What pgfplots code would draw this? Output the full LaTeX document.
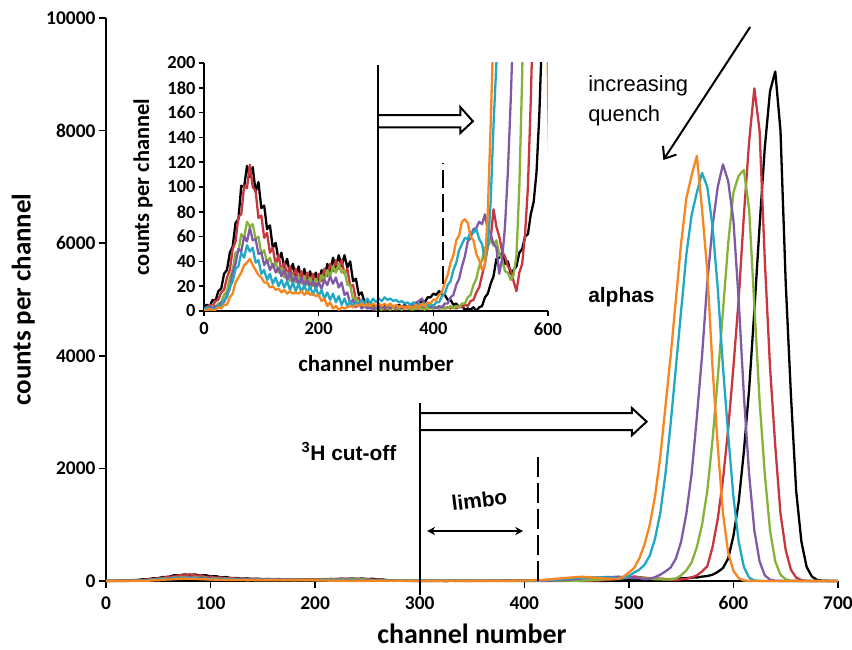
\documentclass[border=0pt]{standalone}
\usepackage{fontspec}
\setmainfont{Carlito}
\newfontfamily\arial{Liberation Sans}
\usepackage{pgfplots}
\pgfplotsset{compat=1.18}
\usepackage{pgfplotstable}
\usetikzlibrary{arrows.meta}
\definecolor{cK}{HTML}{000000}
\definecolor{cR}{HTML}{C8363F}
\definecolor{cG}{HTML}{86B23A}
\definecolor{cP}{HTML}{7F5AA6}
\definecolor{cC}{HTML}{22A8C4}
\definecolor{cO}{HTML}{F7861E}
\pgfplotstableread{
x k r g p c o
0 3 2 1 2 1 1
5 5 3 2 1 3 0
10 4 5 2 4 1 2
15 9 4 4 2 2 0
20 8 8 3 4 1 1
25 16 9 6 3 4 3
30 18 15 7 7 4 2
35 30 17 13 7 9 5
40 33 27 16 13 11 5
45 47 33 27 18 19 11
50 52 50 33 31 24 14
55 71 56 47 38 34 23
60 74 76 48 50 36 27
65 101 78 62 48 47 31
70 100 101 59 60 43 37
75 117 99 72 56 53 39
80 108 118 68 67 48 42
85 116 100 70 57 51 37
90 96 97 58 58 39 33
95 104 75 60 46 41 29
100 83 77 46 47 30 27
105 85 59 49 37 33 23
110 66 63 39 41 25 23
115 69 47 43 33 30 19
120 51 51 35 38 22 20
125 55 37 39 31 27 17
130 41 45 31 35 20 18
135 47 32 35 28 25 15
140 35 39 27 33 19 17
145 42 29 31 25 24 14
150 30 36 24 31 17 16
155 38 26 29 23 23 14
160 27 34 23 28 16 15
165 36 25 28 21 22 14
170 25 32 22 27 15 16
175 34 24 28 20 21 13
180 23 31 21 25 14 16
185 32 22 27 19 20 13
190 22 30 20 24 13 14
195 31 21 26 18 19 12
200 22 30 21 23 12 13
205 33 24 29 18 17 8
210 25 34 25 25 10 10
215 38 28 33 21 15 4
220 31 38 28 28 9 7
225 43 32 36 22 14 2
230 35 41 31 27 7 4
235 45 34 38 19 12 1
240 36 41 31 23 5 3
245 45 30 33 13 10 2
250 35 34 21 15 4 3
255 40 20 21 6 8 4
260 24 21 9 9 3 3
265 26 9 11 3 7 5
270 13 11 4 6 4 4
275 15 4 6 2 9 6
280 7 7 3 4 6 4
285 9 3 4 2 10 6
290 4 4 2 3 6 4
295 5 2 3 1 10 6
300 2 3 1 3 7 4
305 4 2 2 2 10 6
310 2 3 1 4 8 4
315 4 1 3 2 11 6
320 3 3 2 4 9 4
325 2 2 1 2 10 6
330 4 3 3 4 8 3
335 3 1 2 3 9 5
340 5 3 2 4 7 3
345 3 2 1 2 8 4
350 5 2 3 4 6 2
355 3 3 2 3 7 4
360 5 1 2 5 5 3
365 4 3 1 4 7 3
370 6 2 3 7 4 5
375 5 2 2 8 6 3
380 8 3 2 10 4 6
385 7 2 1 6 6 4
390 11 2 3 6 4 7
395 11 3 2 3 6 6
400 14 2 2 4 4 9
405 13 3 3 2 7 9
410 16 2 2 4 7 13
415 13 3 2 3 12 15
420 13 2 3 6 14 23
425 9 3 2 6 21 29
430 9 2 4 11 24 39
435 5 3 2 13 33 45
440 6 2 4 21 39 57
445 3 4 3 26 49 61
450 4 3 6 36 54 72
455 1 5 6 44 59 74
460 2 4 11 56 58 71
465 1 8 13 59 64 60
470 3 9 21 66 63 57
475 0 15 26 67 66 46
480 3 19 36 72 58 41
485 4 29 41 70 54 33
490 11 38 51 78 40 37
495 14 52 54 65 52 80
500 22 58 57 62 88 150
505 28 82 53 54 150 230
510 42 68 57 51 200 400
515 43 60 46 30 290 650
520 47 48 42 42 450 1000
525 38 44 32 68 750 1500
530 40 36 31 112 1200 2200
535 30 33 25 170 1900 3100
540 33 24 29 240 2800 4000
545 36 16 45 400 3800 5000
550 47 31 100 700 4800 6000
555 50 38 190 1200 5800 6800
560 60 62 330 1900 6500 7200
565 62 100 600 2900 6900 7550
570 78 170 1000 4000 7250 6600
575 88 260 1600 5300 7000 5500
580 112 600 2500 6300 6300 3800
585 160 1100 3600 7000 5200 2400
590 230 1800 4800 7400 3800 1200
595 400 2700 6000 7100 2600 500
600 800 3800 6900 6400 1500 180
605 1400 5000 7200 5000 700 50
610 2300 6500 7300 3300 250 10
615 3400 7800 6600 1900 60 3
620 4800 8750 4900 900 10 1
625 6300 8000 3200 350 2 1
630 7700 5700 1900 100 1 1
635 8700 3800 900 25 1 1
640 9050 2400 350 5 1 1
645 8000 1200 110 2 1 1
650 5300 550 30 1 1 1
655 3300 200 5 1 1 1
660 1600 60 2 1 1 1
665 700 15 1 1 1 1
670 250 3 1 1 1 1
675 80 1 1 1 1 1
680 20 1 1 1 1 1
685 5 1 1 1 1 1
690 2 1 1 1 1 1
695 1 1 1 1 1 1
700 1 1 1 1 1 1
}\spectra

\pgfplotsset{
  spec/.style={line width=2.3bp, line join=round, no markers},
}

\begin{document}
\begin{tikzpicture}
\useasboundingbox (-106bp,-69bp) rectangle (746bp,581bp);
% ---------------- main axis ----------------
\begin{axis}[
  at={(0,0)}, anchor=south west,
  scale only axis, width=732bp, height=563bp,
  xmin=0, xmax=700, ymin=0, ymax=10000,
  axis x line=bottom, axis y line=left,
  axis line style={line width=1.5bp, -},
  xtick={0,100,...,700}, ytick={0,2000,...,10000},
  tick align=outside, major tick length=7bp,
  tick style={line width=1.5bp, black},
  /pgf/number format/assume math mode=true,
  /pgf/number format/1000 sep={},
  scaled ticks=false,
  ticklabel style={font=\bfseries\fontsize{19.5}{20}\selectfont},
  xticklabel style={yshift=-5bp},
  xlabel={channel number}, ylabel={counts per channel},
  xlabel style={font=\bfseries\fontsize{28}{30}\selectfont, inner sep=0pt, at={(axis description cs:0.5,-0.093)}, anchor=center},
  ylabel style={font=\bfseries\fontsize{27}{29}\selectfont, at={(axis description cs:-0.113,0.5)}, anchor=center},
  clip=false,
]
\addplot[spec, cK] table[x=x, y=k] {\spectra};
\addplot[spec, cR] table[x=x, y=r] {\spectra};
\addplot[spec, cG] table[x=x, y=g] {\spectra};
\addplot[spec, cP] table[x=x, y=p] {\spectra};
\addplot[spec, cC] table[x=x, y=c] {\spectra};
\addplot[spec, cO] table[x=x, y=o] {\spectra};
% annotations
\draw[line width=2bp] (axis cs:300,-250) -- (axis cs:300,3160);
\draw[line width=2bp, line join=miter] (axis cs:300,2980) -- (axis cs:503,2980) -- (axis cs:503,3070) -- (axis cs:517,2830) -- (axis cs:503,2590) -- (axis cs:503,2680) -- (axis cs:300,2680);
\draw[line width=2.2bp, dash pattern=on 20bp off 6bp] (axis cs:413,0) -- (axis cs:413,2220);
\draw[line width=2bp, {Stealth[length=8bp,width=8bp]}-{Stealth[length=8bp,width=8bp]}] (axis cs:307,888) -- (axis cs:399,888);
\node[font=\arial\bfseries\fontsize{21}{22}\selectfont, rotate=7, inner sep=0pt] at (axis cs:357,1440) {limbo};
\node[font=\arial\bfseries\fontsize{21}{22}\selectfont, anchor=base west, inner sep=0pt] at (axis cs:187,2149) {\textsuperscript{3}H cut-off};
\node[font=\arial\bfseries\fontsize{21}{22}\selectfont, anchor=base west, inner sep=0pt] at (axis cs:461,4938) {alphas};
\node[font=\arial\fontsize{22}{26}\selectfont, anchor=base west, inner sep=0pt] at (axis cs:461,8686) {increasing};
\node[font=\arial\fontsize{22}{26}\selectfont, anchor=base west, inner sep=0pt] at (axis cs:461,8153) {quench};
\draw[line width=2bp, -{Straight Barb[length=10bp,width=16bp]}] (axis cs:616,9840) -- (axis cs:533,7478);
\end{axis}
% ---------------- inset axis ----------------
\begin{axis}[
  at={(98bp,270bp)}, anchor=south west,
  scale only axis, width=344bp, height=248bp,
  xmin=0, xmax=600, ymin=0, ymax=200,
  axis x line=bottom, axis y line=left,
  axis line style={line width=1.5bp, -},
  xtick={0,200,400,600}, ytick={0,20,...,200},
  tick align=outside, major tick length=5bp,
  tick style={line width=1.5bp, black},
  /pgf/number format/assume math mode=true,
  /pgf/number format/1000 sep={},
  scaled ticks=false,
  ticklabel style={font=\bfseries\fontsize{18.5}{19}\selectfont},
  xticklabel style={yshift=-3bp},
  xlabel={channel number}, ylabel={counts per channel},
  xlabel style={font=\bfseries\fontsize{23}{25}\selectfont, at={(axis description cs:0.5,-0.21)}, anchor=center},
  ylabel style={font=\bfseries\fontsize{22.5}{24}\selectfont, at={(axis description cs:-0.177,0.5)}, anchor=center},
  clip mode=individual,
]
\addplot[spec, cK] table[x=x, y=k] {\spectra};
\addplot[spec, cR] table[x=x, y=r] {\spectra};
\addplot[spec, cG] table[x=x, y=g] {\spectra};
\addplot[spec, cP] table[x=x, y=p] {\spectra};
\addplot[spec, cC] table[x=x, y=c] {\spectra};
\addplot[spec, cO] table[x=x, y=o] {\spectra};
\draw[line width=2bp] (axis cs:303,-5) -- (axis cs:303,198);
\draw[line width=2bp, line join=miter] (axis cs:303,158) -- (axis cs:447,158) -- (axis cs:447,164.5) -- (axis cs:469,153) -- (axis cs:447,143.5) -- (axis cs:447,148) -- (axis cs:303,148);
\draw[line width=2.2bp, dash pattern=on 18bp off 6bp] (axis cs:417,22) -- (axis cs:417,119);
\end{axis}
\end{tikzpicture}
\end{document}
